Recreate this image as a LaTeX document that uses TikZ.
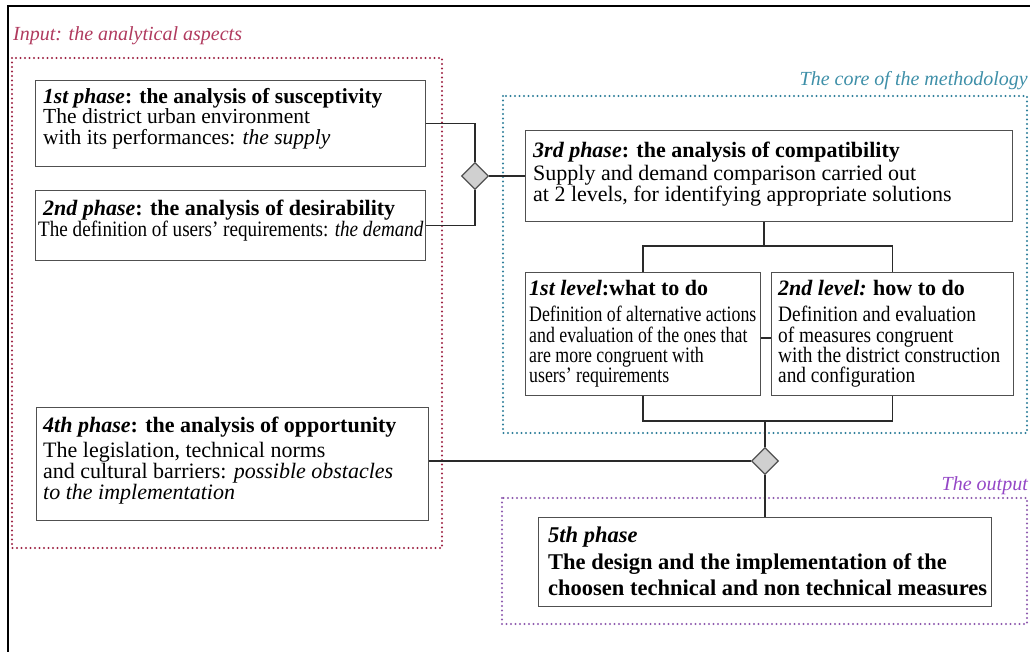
\documentclass[tikz,border=0pt]{standalone}
\usepackage{fontspec}
\setmainfont{Liberation Serif}
\newfontfamily\condL[FakeStretch=0.81]{Liberation Serif}
\newfontfamily\condD[FakeStretch=0.87]{Liberation Serif}
\newfontfamily\condM[FakeStretch=0.88]{Liberation Serif}
\usetikzlibrary{shapes.geometric}
\definecolor{inred}{HTML}{9E2444}
\definecolor{inredtext}{HTML}{B03A5E}
\definecolor{coreblue}{HTML}{3E8FA8}
\definecolor{coredots}{HTML}{2F7F9A}
\definecolor{outpurple}{HTML}{9446C6}
\definecolor{outdots}{HTML}{8E5AAE}
\definecolor{boxgray}{HTML}{505050}
\definecolor{linegray}{HTML}{2A2A2A}
\definecolor{diafill}{HTML}{D0D0D0}
\begin{document}
\begin{tikzpicture}[x=1pt,y=-1pt,
  dotframe/.style={line width=2.2pt, dash pattern=on 0pt off 4.5pt, line cap=round},
  lbl/.style={inner sep=0pt, font=\fontsize{20}{20}\selectfont\itshape},
  box/.style={draw=boxgray, line width=1.2pt, fill=white, inner sep=0pt, anchor=north west},
  txt/.style={anchor=north west, inner sep=0pt, align=left},
  conn/.style={draw=linegray, line width=1.4pt},
  dia/.style={diamond, draw=boxgray, fill=diafill, line width=1.2pt, minimum width=27pt, minimum height=27pt, inner sep=0pt}]
\useasboundingbox (0,0) rectangle (1030,651);
% outer frame (cropped)
\draw[line width=2.2pt] (8,652) -- (8,6) -- (1031,6);
% group frames
\draw[dotframe, inred] (12,58) rectangle (442,548);
\draw[dotframe, coredots] (503,96) rectangle (1027,433);
\draw[dotframe, outdots] (502,498) rectangle (1027,624);
\node[lbl, text=inredtext, anchor=base west] (lin) at (13,40) {Input: the analytical aspects};
\node[lbl, text=coreblue, anchor=base east] (lcore) at (1028,85) {The core of the methodology};
\node[lbl, text=outpurple, anchor=base east] (lout) at (1028,490) {The output};
% boxes
\node[box, minimum width=390pt, minimum height=86pt] (b1) at (35,80) {};
\node[box, minimum width=390pt, minimum height=70pt] (b2) at (35,190) {};
\node[box, minimum width=487pt, minimum height=91pt] (b3) at (525,130) {};
\node[box, minimum width=235pt, minimum height=123pt] (L1) at (525,272) {};
\node[box, minimum width=242pt, minimum height=123pt] (L2) at (771,272) {};
\node[box, minimum width=392pt, minimum height=113pt] (b4) at (36,407) {};
\node[box, minimum width=453pt, minimum height=89pt] (b5) at (538,517) {};
\node[dia] (d1) at (475,176) {};
\node[dia] (d2) at (765,461) {};
\coordinate (j1) at (764,246);
\coordinate (j2) at (765,421);
% connectors
\draw[conn] (b1.east) -| (d1.north);
\draw[conn] (b2.east) -| (d1.south);
\draw[conn] (d1.east) -- (d1.east -| b3.west);
\draw[conn] (b3.south -| j1) -- (j1);
\draw[conn] (L1.north) |- (j1) -| (L2.north);
\draw[conn] (L1.south) |- (j2) -| (L2.south);
\draw[conn] (j2) -- (d2.north);
\draw[conn] ([yshift=-4pt]L1.east) -- ([yshift=-4pt]L2.west);
\draw[conn] (d2.west) -- (d2.west -| b4.east);
\draw[conn] (d2.south) -- (d2.south |- b5.north);
% texts
\node[txt, font=\fontsize{21.5}{20.5}\selectfont] (t1) at (43,88)
  {\textbf{\textit{1st phase}: the analysis of susceptivity}\\
   The district urban environment\\
   with its performances: \textit{the supply}};
\node[txt, font=\fontsize{22}{17.5}\selectfont] (t2) at (43,200)
  {\textbf{\textit{2nd phase}: the analysis of desirability}\\
   \hspace*{-5pt}\condD The definition of users’ requirements: \textit{the demand}};
\node[txt, font=\fontsize{22}{18.5}\selectfont] (t3) at (533,142)
  {\textbf{\textit{3rd phase}: the analysis of compatibility}\\[2pt]
   Supply and demand comparison carried out\\
   at 2 levels, for identifying appropriate solutions};
\node[txt, font=\condL\fontsize{22}{20.3}\selectfont] (tl1) at (529,280)
  {{\normalfont\bfseries\itshape 1st level}{\normalfont\bfseries :what to do}\\[6pt]
   Definition of alternative actions\\
   and evaluation of the ones that\\
   are more congruent with\\
   users’ requirements};
\node[txt, font=\condM\fontsize{22}{20.3}\selectfont] (tl2) at (778,280)
  {{\normalfont\bfseries\itshape 2nd level:} {\normalfont\bfseries how to do}\\[6pt]
   Definition and evaluation\\
   of measures congruent\\
   with the district construction\\
   and configuration};
\node[txt, font=\fontsize{22}{18.5}\selectfont] (t4) at (43,417)
  {\textbf{\textit{4th phase}: the analysis of opportunity}\\[4pt]
   The legislation, technical norms\\
   and cultural barriers: \textit{possible obstacles}\\
   \textit{to the implementation}};
\node[txt, font=\fontsize{22.5}{26.5}\selectfont\bfseries] (t5) at (548,527)
  {\textit{5th phase}\\
   The design and the implementation of the\\
   choosen technical and non technical measures};
\end{tikzpicture}
\end{document}
